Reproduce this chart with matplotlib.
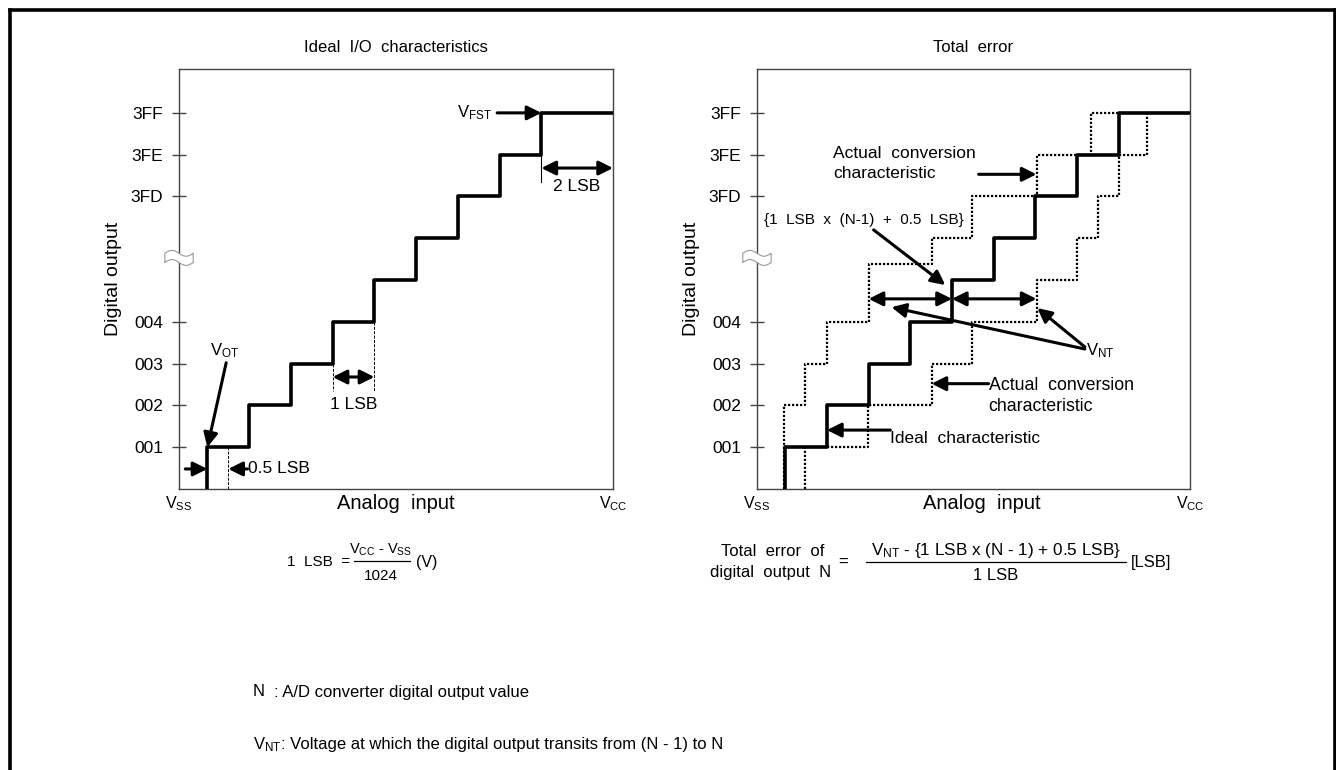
import numpy as np
import matplotlib
matplotlib.use("Agg")
from matplotlib import pyplot as plt
from matplotlib.lines import Line2D
from matplotlib.patches import Polygon

plt.rcParams['font.family'] = ['Liberation Sans', 'DejaVu Sans']
plt.rcParams['mathtext.fontset'] = 'custom'
plt.rcParams['mathtext.rm'] = 'Liberation Sans'
plt.rcParams['mathtext.it'] = 'Liberation Sans'

W, H = 1336, 770

# rows shown on the y axis (7, 8, 9 stand for 3FD, 3FE, 3FF after the break)
tick_rows = [1, 2, 3, 4, 7, 8, 9]
tick_labels = ["001", "002", "003", "004", "3FD", "3FE", "3FF"]
rows = [1, 2, 3, 4, 5, 6, 7, 8, 9]

# x (in LSB from Vss) where each code is entered
ideal_edges = [0.68, 1.68, 2.68, 3.68, 4.68, 5.68, 6.68, 7.68, 8.68]
upper_edges = [0.65, 0.65, 1.16, 1.68, 2.68, 4.19, 5.17, 6.71, 8.02]
upper_rows = [1, 2, 3, 4, 5.38, 6, 7, 8, 9]
lower_edges = [1.16, 2.67, 4.19, 5.17, 6.71, 7.69, 8.19, 8.69, 9.37]
lower_rows = [1, 2, 3, 4, 5, 6, 7, 8, 9]

XMAX = 10.395
YMAX = 10.05


def px(x, y):
    return x / W, 1 - y / H


def arrow(ax, start, end, both=False, lw=2.2):
    style = '<|-|>' if both else '-|>'
    ax.annotate('', xy=end, xytext=start, annotation_clip=False,
                arrowprops=dict(arrowstyle=style + ',head_length=0.5,head_width=0.25',
                                lw=lw, color='black', mutation_scale=17,
                                shrinkA=0, shrinkB=0))


def staircase(ax, edges, levels, x_end, **kw):
    xs = [edges[0]] + list(edges) + [x_end]
    ys = [0] + list(levels) + [levels[-1]]
    ax.step(xs, ys, where='post', **kw)


def setup(ax, title, label_x):
    ax.set_xlim(0, XMAX)
    ax.set_ylim(0, YMAX)
    for s in ax.spines.values():
        s.set_color('#444444')
        s.set_linewidth(1.0)
    ax.set_xticks([])
    ax.set_yticks(tick_rows)
    ax.set_yticklabels(tick_labels, fontsize=12.5)
    ax.tick_params(axis='y', direction='inout', length=10, width=1.0,
                   color='#444444', pad=6.3)
    ax.set_title(title, fontsize=12, pad=12)
    ax.set_ylabel('Digital output', fontsize=14, labelpad=6)
    ax.text(label_x, -0.035, 'Analog  input', transform=ax.transAxes,
            ha='center', va='center', fontsize=14.5)
    ax.text(0, -0.035, r'V$_{\mathregular{SS}}$', transform=ax.transAxes,
            ha='center', va='center', fontsize=11.5)
    ax.text(1, -0.035, r'V$_{\mathregular{CC}}$', transform=ax.transAxes,
            ha='center', va='center', fontsize=11.5)
    # axis break mark
    t = np.linspace(-1, 1, 40)
    xw = t * 0.34
    top = 5.64 - 0.07 * np.sin(np.pi * t)
    bot = 5.42 - 0.07 * np.sin(np.pi * t)
    pts = np.column_stack([np.r_[xw, xw[::-1]], np.r_[top, bot[::-1]]])
    ax.add_patch(Polygon(pts, closed=True, facecolor='white', edgecolor='#999999',
                         lw=0.8, clip_on=False, zorder=5))


fig = plt.figure(figsize=(W / 100, H / 100), dpi=100)

axL = fig.add_axes([179 / W, 1 - 489 / H, 434 / W, 420 / H])
axR = fig.add_axes([757 / W, 1 - 489 / H, 433 / W, 420 / H])
setup(axL, 'Ideal  I/O  characteristics', 0.5)
setup(axR, 'Total  error', 0.52)

# ---- left panel
staircase(axL, ideal_edges, rows, XMAX, color='black', lw=2.6, zorder=3)
axL.text(1.10, 3.30, r'V$_{\mathregular{OT}}$', ha='center', va='center', fontsize=12)
arrow(axL, (1.13, 3.02), (0.68, 1.0))
arrow(axL, (0.15, 0.48), (0.68, 0.48))
arrow(axL, (1.64, 0.48), (1.18, 0.48))
axL.text(1.66, 0.48, '0.5 LSB', ha='left', va='center', fontsize=12.5)
axL.plot([1.18, 1.18], [0, 1], color='black', lw=0.7, ls=(0, (3, 1.5)))
arrow(axL, (3.68, 2.68), (4.68, 2.68), both=True)
axL.plot([3.68, 3.68], [3, 2.35], color='black', lw=0.7, ls=(0, (3, 1.5)))
axL.plot([4.68, 4.68], [4, 2.35], color='black', lw=0.7, ls=(0, (3, 1.5)))
axL.text(4.18, 2.03, '1 LSB', ha='center', va='center', fontsize=12.5)
axL.text(7.50, 9.0, r'V$_{\mathregular{FST}}$', ha='right', va='center', fontsize=12)
arrow(axL, (7.62, 9.0), (8.68, 9.0))
arrow(axL, (8.68, 7.68), (XMAX, 7.68), both=True)
axL.plot([8.68, 8.68], [8, 7.35], color='black', lw=0.8)
axL.text(9.53, 7.25, '2 LSB', ha='center', va='center', fontsize=12.5)

# ---- right panel
dots = dict(color='black', lw=1.6, ls=(0, (1, 0.8)), zorder=2)
staircase(axR, upper_edges, upper_rows, 8.69, **dots)
staircase(axR, lower_edges, lower_rows, XMAX, **dots)
staircase(axR, ideal_edges, rows, XMAX, color='black', lw=2.6, zorder=3)

axR.text(2.57, 6.43, '{1  LSB  x  (N-1)  +  0.5  LSB}', ha='center', va='center',
         fontsize=11)
arrow(axR, (2.80, 6.20), (4.52, 4.88))
arrow(axR, (2.68, 4.55), (4.68, 4.55), both=True)
arrow(axR, (4.68, 4.55), (6.71, 4.55), both=True)
axR.text(7.90, 3.30, r'V$_{\mathregular{NT}}$', ha='left', va='center', fontsize=12)
arrow(axR, (7.87, 3.35), (3.23, 4.35))
arrow(axR, (7.87, 3.40), (6.73, 4.33))
axR.text(1.82, 7.79, 'Actual  conversion\ncharacteristic', ha='left', va='center',
         fontsize=12.5, linespacing=1.35)
arrow(axR, (5.32, 7.53), (6.71, 7.53))
axR.text(5.56, 2.22, 'Actual  conversion\ncharacteristic', ha='left', va='center',
         fontsize=12.8, linespacing=1.3)
arrow(axR, (5.56, 2.52), (4.19, 2.52))
axR.text(3.20, 1.22, 'Ideal  characteristic', ha='left', va='center', fontsize=12.5)
arrow(axR, (3.20, 1.41), (1.68, 1.41))

# ---- formulas under the panels
fs = 12
fig.text(*px(350, 562), '1  LSB  =', ha='right', va='center', fontsize=11)
fig.text(*px(381, 550), r'V$_{\mathregular{CC}}$ - V$_{\mathregular{SS}}$', ha='center',
         va='center', fontsize=10.5)
fig.add_artist(Line2D([354 / W, 410 / W], [1 - 561 / H] * 2, color='black', lw=0.9))
fig.text(*px(381, 576), '1024', ha='center', va='center', fontsize=11)
fig.text(*px(416, 562), '(V)', ha='left', va='center', fontsize=11.5)

fig.text(*px(773, 552), 'Total  error  of', ha='center', va='center', fontsize=fs)
fig.text(*px(771, 572), 'digital  output  N', ha='center', va='center', fontsize=fs)
fig.text(*px(843, 562), '=', ha='center', va='center', fontsize=fs)
fig.text(*px(996, 551), r'V$_{\mathregular{NT}}$ - {1 LSB x (N - 1) + 0.5 LSB}',
         ha='center', va='center', fontsize=12.3)
fig.add_artist(Line2D([866 / W, 1126 / W], [1 - 562 / H] * 2, color='black', lw=0.9))
fig.text(*px(996, 576), '1 LSB', ha='center', va='center', fontsize=fs)
fig.text(*px(1131, 562), '[LSB]', ha='left', va='center', fontsize=fs)

# ---- notes
fig.text(*px(253, 692), 'N', ha='left', va='center', fontsize=12)
fig.text(*px(274, 692), ': A/D converter digital output value', ha='left', va='center',
         fontsize=12)
fig.text(*px(253, 745), r'V$_{\mathregular{NT}}$', ha='left', va='center', fontsize=12)
fig.text(*px(281, 745), ': Voltage at which the digital output transits from (N - 1) to N',
         ha='left', va='center', fontsize=12)

# outer frame (open at the bottom)
for xs, ys in [([9.5, 9.5], [H, 9.5]), ([9.5, 1334.5], [9.5, 9.5]),
               ([1334.5, 1334.5], [9.5, H])]:
    fig.add_artist(Line2D([x / W for x in xs], [1 - y / H for y in ys],
                          color='black', lw=2.6))

fig.savefig('out.png', dpi=100)
